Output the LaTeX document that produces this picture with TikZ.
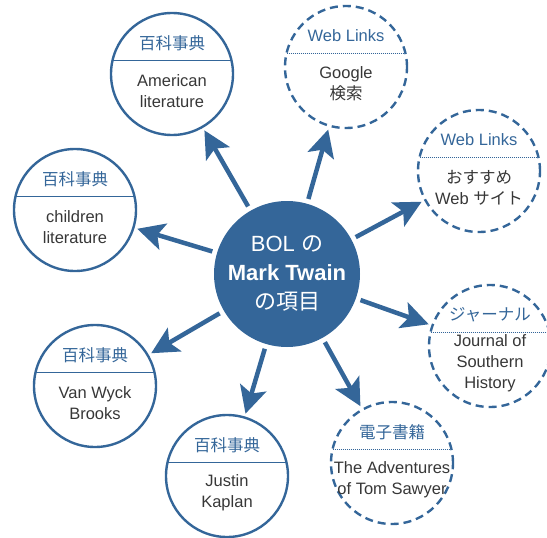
\documentclass[tikz,border=0pt]{standalone}
\usepackage{fontspec}
\setmainfont{Liberation Sans}
\newfontfamily\jp{Noto Sans CJK JP}
\usetikzlibrary{arrows.meta}
\definecolor{twainblue}{RGB}{52,102,153}
\definecolor{bodygray}{RGB}{55,55,55}

\begin{document}
\begin{tikzpicture}[
  x=1pt, y=-1pt,
  hub/.style={circle, fill=twainblue, minimum size=146pt, inner sep=0pt, outer sep=0pt,
    text=white, align=center, font=\fontsize{22}{29}\selectfont},
  ency/.style={circle, draw=twainblue, line width=2.4pt, minimum size=122pt,
    inner sep=0pt, outer sep=0pt},
  weblink/.style={ency, dash pattern=on 8pt off 5pt},
  heading/.style={text=twainblue, font=\fontsize{16.5}{20}\selectfont},
  entry/.style={text=bodygray, align=center, font=\fontsize{16.5}{21}\selectfont},
  rule/.style={draw=twainblue, line width=1.5pt},
  dotrule/.style={draw=twainblue, line width=1pt, dash pattern=on 1pt off 1pt},
  spoke/.style={draw=twainblue, line width=4.5pt,
    -{Stealth[length=27pt,width=27pt,inset=6pt]}, shorten <=5pt, shorten >=4pt}
]
  \useasboundingbox (0,0) rectangle (547,538);

  % centre
  \node[hub] (hub) at (287,274) {BOL {\jp の}\\\textbf{Mark Twain}\\{\jp の項目}};

  % encyclopedia entries
  \node[ency] (amer) at (172,74) {};
  \node[ency] (child) at (75,210) {};
  \node[ency] (brooks) at (95,386) {};
  \node[ency] (kaplan) at (227,476) {};

  % links and books
  \node[weblink] (google) at (346,67) {};
  \node[weblink] (sites) at (479,171) {};
  \node[weblink] (journal) at (490,346) {};
  \node[weblink] (ebook) at (392,463) {};

  % headings
  \foreach \n in {amer,child,brooks,kaplan} {
    \node[heading] at ([yshift=31pt]\n.center) {\jp 百科事典};
    \draw[rule] (\n.167) -- (\n.13);
  }
  \node[heading] at ([yshift=31pt]google.center) {Web Links};
  \node[heading] at ([yshift=31pt]sites.center) {Web Links};
  \node[heading] at ([yshift=31pt]journal.center) {\jp ジャーナル};
  \node[heading] at ([yshift=31pt]ebook.center) {\jp 電子書籍};
  \foreach \n in {google,sites,journal,ebook}
    \draw[dotrule] (\n.167) -- (\n.13);

  % texts
  \node[entry] at ([yshift=-17pt]amer.center) {American\\literature};
  \node[entry] at ([yshift=-17pt]child.center) {children\\literature};
  \node[entry] at ([yshift=-17pt]brooks.center) {Van Wyck\\Brooks};
  \node[entry] at ([yshift=-17pt]kaplan.center) {Justin\\Kaplan};
  \node[entry] at ([yshift=-17pt]google.center) {Google\\{\jp 検索}};
  \node[entry] at ([yshift=-17pt]sites.center) {{\jp おすすめ}\\Web {\jp サイト}};
  \node[entry] at ([yshift=-17pt]journal.center) {Journal of\\Southern\\History};
  \node[entry] at ([yshift=-17pt]ebook.center) {The Adventures\\of Tom Sawyer};

  % arrows
  \foreach \n in {amer,google,sites,journal,ebook,kaplan,brooks,child}
    \draw[spoke] (hub) -- (\n);
\end{tikzpicture}
\end{document}
